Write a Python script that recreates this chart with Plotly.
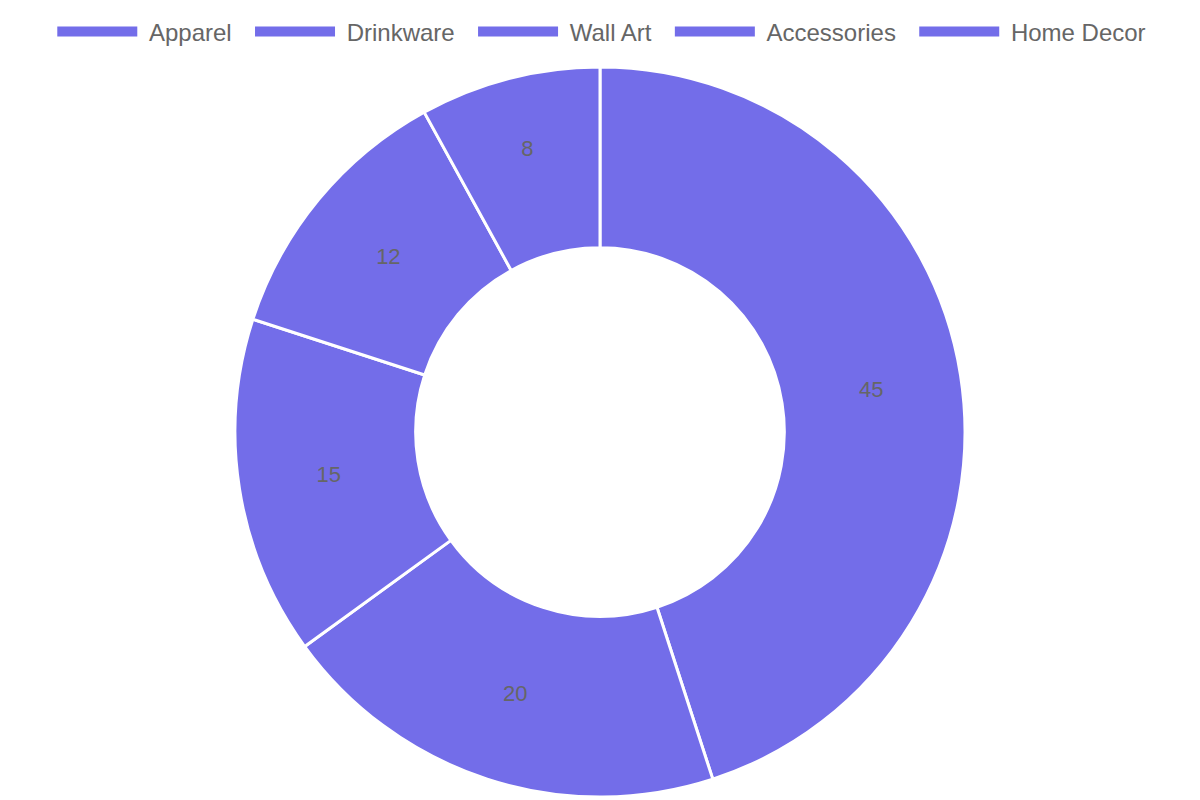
import plotly.graph_objects as go

# product categories and their share
categories = ["Apparel", "Drinkware", "Wall Art", "Accessories", "Home Decor"]
values = [45, 20, 15, 12, 8]

slice_color = "#736DE9"
text_color = "#666666"
font_family = "Liberation Sans, Arial, sans-serif"
nb = "\u00a0"  # non-breaking space to space out legend entries

fig = go.Figure()

fig.add_trace(go.Pie(
    labels=categories,
    values=values,
    hole=0.505,
    sort=False,
    direction="clockwise",
    rotation=0,
    marker=dict(colors=[slice_color] * len(values), line=dict(color="white", width=3)),
    textinfo="value",
    textposition="inside",
    insidetextorientation="horizontal",
    textfont=dict(family=font_family, size=22, color=text_color),
    hoverinfo="label+value",
    showlegend=False,
    domain=dict(x=[0, 1], y=[0, 1]),
))

# legend entries drawn as wide boxes (one per category, no data points)
for cat in categories:
    fig.add_trace(go.Scatter(
        x=[None], y=[None],
        mode="lines",
        name=nb + cat + nb * 2,
        line=dict(color=slice_color, width=20),
        hoverinfo="skip",
    ))

fig.update_layout(
    width=1200,
    height=800,
    paper_bgcolor="white",
    plot_bgcolor="white",
    # the page adds an 8px body margin, so shift the plot back up/left
    margin=dict(t=59, b=11, l=0, r=16),
    font=dict(family=font_family, color=text_color),
    xaxis=dict(visible=False),
    yaxis=dict(visible=False),
    showlegend=True,
    legend=dict(
        orientation="h",
        x=0.507, xanchor="center",
        y=1.048, yanchor="middle",
        font=dict(size=24, color=text_color),
        itemwidth=80,
        traceorder="normal",
    ),
)

fig.write_html("out.html")
